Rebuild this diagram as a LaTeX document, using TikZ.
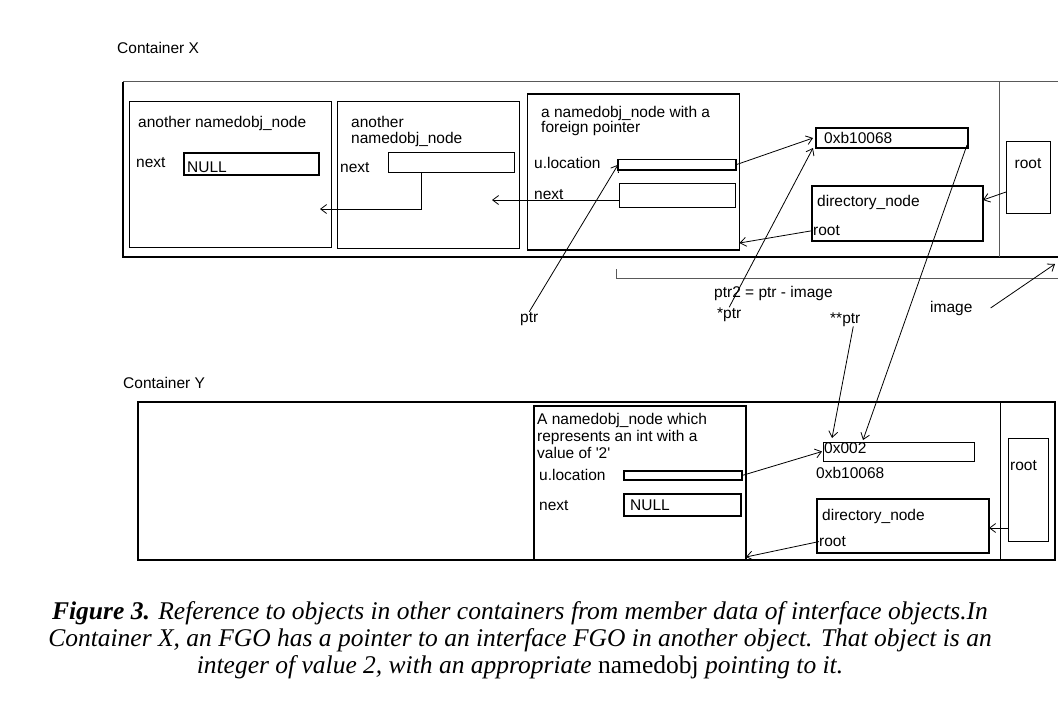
\documentclass[tikz,border=0pt]{standalone}
\usepackage{fontspec}
\setmainfont{Liberation Serif}
\newfontfamily\lsans{Liberation Sans}
\usetikzlibrary{arrows.meta}

\tikzset{
  lbl/.style={font=\lsans\fontsize{15.5}{15.5}\selectfont, inner sep=0pt, anchor=base west},
  box/.style={draw, inner sep=0pt, outer sep=0pt, anchor=north west, line width=1pt},
  thickbox/.style={box, line width=1.6pt},
  ptr/.style={-{Straight Barb[length=6pt,width=9pt]}, line width=0.8pt},
  captext/.style={font=\fontsize{25.5}{27}\selectfont\itshape, inner sep=0pt, anchor=base},
}

\begin{document}
\begin{tikzpicture}[x=1pt,y=-1pt]
\useasboundingbox (0,0) rectangle (1058,718);

% ---------------- Container X ----------------
\node[lbl] (cxlabel) at (117,53) {Container X};
\draw[gray!70!black, line width=1pt] (1058,81.5) -- (123,81.5);
\draw[line width=1.5pt] (123,81.5) -- (123,257) -- (1058,257);
\draw[gray!70!black, line width=1pt] (999,81.5) -- (999,257);

% first list node
\node[box, minimum width=202pt, minimum height=146pt] (b1) at (129,101) {};
\node[lbl] (b1title) at (138,127) {another namedobj\_node};
\node[lbl] (b1next) at (136,167) {next};
\node[thickbox, minimum width=135pt, minimum height=22pt] (null1) at (184,153) {};
\node[lbl] (null1txt) at (187,172) {NULL};

% second list node
\node[box, minimum width=182pt, minimum height=147pt] (b2) at (337,101) {};
\node[lbl] (b2title) at (351,127) {another};
\node[lbl] (b2title2) at (351,143) {namedobj\_node};
\node[lbl] (b2next) at (340,172) {next};
\node[box, minimum width=126pt, minimum height=20pt] (f2) at (388,152) {};
\coordinate (n1tip) at (320,209);

% node holding the foreign pointer
\node[box, line width=1.3pt, minimum width=212pt, minimum height=156pt] (b3) at (527.5,94) {};
\node[lbl] (b3title) at (541,117) {a namedobj\_node with a};
\node[lbl] (b3title2) at (541,132) {foreign pointer};
\node[lbl] (b3loc) at (534,168) {u.location};
\node[lbl] (b3next) at (534,199) {next};
\node[box, line width=1.3pt, minimum width=118pt, minimum height=10.5pt] (loc3) at (618,159.5) {};
\node[box, minimum width=116.5pt, minimum height=24pt] (next3) at (619,183) {};
\coordinate (n2tip) at (492,200);

% directory of container X
\node[box, line width=1.3pt, minimum width=152pt, minimum height=20pt] (hexX) at (816,128) {};
\node[lbl] (hexXtxt) at (824,143) {0xb10068};
\node[box, line width=1.3pt, minimum width=171pt, minimum height=55pt] (dirX) at (812,186) {};
\node[lbl] (dirXtxt) at (817,206) {directory\_node};
\node[lbl] (dirXroot) at (813,235.5) {root};
\node[box, minimum width=44pt, minimum height=72pt] (rootX) at (1006,141) {};
\node[lbl, anchor=base] (rootXtxt) at (1028,168) {root};

% pointer arithmetic labels
\draw[gray!70!black, line width=1pt] (616.7,269) -- (616.7,278) -- (1058,278);
\node[lbl] (ptrlbl) at (520,322) {ptr};
\node[lbl] (ptrdiff) at (714,297) {ptr2 = ptr - image};
\node[lbl] (sptr) at (717,318) {*ptr};
\node[lbl] (ssptr) at (830,323) {**ptr};
\node[lbl] (imglbl) at (930,312) {image};
\coordinate (imgtip) at (1055,264);

% ---------------- Container Y ----------------
\node[lbl] (cylabel) at (123,388) {Container Y};
\node[box, line width=1.3pt, minimum width=917pt, minimum height=158pt] (contY) at (138,402) {};
\draw[line width=1pt] (1000.7,402) -- (1000.7,560);

\node[box, line width=1.3pt, minimum width=212pt, minimum height=154pt] (bY) at (534,406) {};
\node[lbl] (bYtitle) at (537,424) {A namedobj\_node which};
\node[lbl] (bYtitle2) at (537,441.5) {represents an int with a};
\node[lbl] (bYtitle3) at (537,458) {value of '2'};
\node[lbl] (bYloc) at (539,480) {u.location};
\node[lbl] (bYnext) at (539,510) {next};
\node[thickbox, minimum width=118pt, minimum height=9pt] (locY) at (624,471) {};
\node[box, line width=1.3pt, minimum width=117pt, minimum height=22pt] (nullY) at (624,494) {};
\node[lbl] (nullYtxt) at (630,510) {NULL};

\node[box, minimum width=151pt, minimum height=19pt] (hexY) at (823,442) {};
\node[lbl] (hexYtxt) at (824,453) {0x002};
\node[lbl] (hexYaddr) at (816,478) {0xb10068};
\node[box, line width=1.3pt, minimum width=172pt, minimum height=54pt] (dirY) at (817,499) {};
\node[lbl] (dirYtxt) at (822,520) {directory\_node};
\node[lbl] (dirYroot) at (819,546.5) {root};
\node[box, minimum width=40pt, minimum height=103pt] (rootY) at (1008,438) {};
\node[lbl] (rootYtxt) at (1010,470.5) {root};

% ---------------- pointers ----------------
\draw[ptr] ([xshift=33pt]f2.south west) |- (n1tip);
\draw[ptr] ([yshift=-5pt]next3.west) -- (n2tip);
\draw[ptr] (loc3.east) -- ([xshift=-3pt]hexX.west);
\draw[ptr] (ptrlbl.north) -- (loc3.west);
\draw[ptr] (sptr.north) -- ([xshift=-3pt]hexX.south west);
\draw[ptr] (dirXroot.west) -- ([yshift=7pt]b3.south east);
\draw[ptr] ([yshift=-51pt]rootX.north west) -- ([yshift=-14pt]dirX.north east);
\draw[ptr] ([xshift=18pt]imglbl.east) -- (imgtip);
\draw[ptr] ([xshift=-1pt,yshift=3pt]hexX.south east) -- ([xshift=40pt,yshift=2pt]hexY.north west);
\draw[ptr] ([xshift=8pt]ssptr.south) -- ([xshift=9pt,yshift=4pt]hexY.north west);
\draw[ptr] (locY.east) -- ([xshift=-1pt]hexY.west);
\draw[ptr] (dirYroot.west) -- ([yshift=3pt]bY.south east);
\draw[ptr] ([yshift=13pt]rootY.south west) -- ([yshift=-2pt]dirY.east);

% ---------------- caption ----------------
\node[captext] (cap1) at (520,619) {\textbf{Figure 3.} Reference to objects in other containers from member data of interface objects.In};
\node[captext] (cap2) at (520,646) {Container X, an FGO has a pointer to an interface FGO in another object. That object is an};
\node[captext] (cap3) at (520,673) {integer of value 2, with an appropriate \textup{namedobj} pointing to it.};
\end{tikzpicture}
\end{document}
